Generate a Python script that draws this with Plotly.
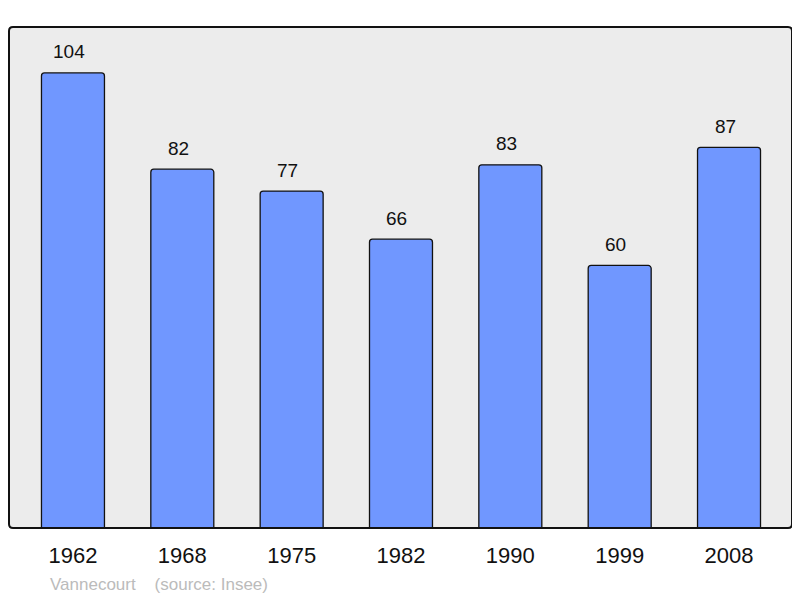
import plotly.graph_objects as go

years = ["1962", "1968", "1975", "1982", "1990", "1999", "2008"]
population = [104, 82, 77, 66, 83, 60, 87]
positions = list(range(len(years)))

W, H = 792, 590
ML, MR, MT, MB = 1, 8, 19, 70
PW, PH = W - ML - MR, H - MT - MB

fig = go.Figure()
fig.add_trace(go.Bar(
    x=positions, y=population, width=0.576,
    marker=dict(color="#7097ff", line=dict(color="#111111", width=1.3), cornerradius=3),
    hoverinfo="skip",
))
for xi, v in zip(positions, population):
    fig.add_annotation(x=xi, y=v, text=str(v), showarrow=False, yshift=21, xshift=-4,
                       yanchor="middle", font=dict(size=19, color="#111111", family="Liberation Sans, Arial"))

rx, ry = 4 / PW, 4 / PH
path = (f"M {rx},0 L {1-rx},0 Q 1,0 1,{ry} L 1,{1-ry} Q 1,1 {1-rx},1 "
        f"L {rx},1 Q 0,1 0,{1-ry} L 0,{ry} Q 0,0 {rx},0 Z")
fig.add_shape(type="path", xref="paper", yref="paper", path=path,
              line=dict(color="#111111", width=2), layer="above")

fig.add_annotation(xref="paper", yref="paper", x=(48 - 9) / PW, y=-(584 - 528) / PH,
                   xanchor="left", yanchor="middle", showarrow=False,
                   text="Vannecourt&nbsp;&nbsp;&nbsp;&nbsp;(source: Insee)",
                   font=dict(size=17, color="#bbbbbb", family="Liberation Sans, Arial"))

fig.update_layout(
    width=W, height=H,
    margin=dict(l=ML, r=MR, t=MT, b=MB, pad=0),
    paper_bgcolor="white", plot_bgcolor="#ececec",
    showlegend=False,
    font=dict(family="Liberation Sans, Arial", color="#111111"),
    xaxis=dict(range=[-0.585, 6.576], tickvals=positions, ticktext=years,
               showgrid=False, zeroline=False, ticks="", ticklabelstandoff=12,
               tickfont=dict(size=22)),
    yaxis=dict(range=[0, 114.5], showgrid=False, zeroline=False,
               showticklabels=False, ticks=""),
)
fig.write_html("out.html")
